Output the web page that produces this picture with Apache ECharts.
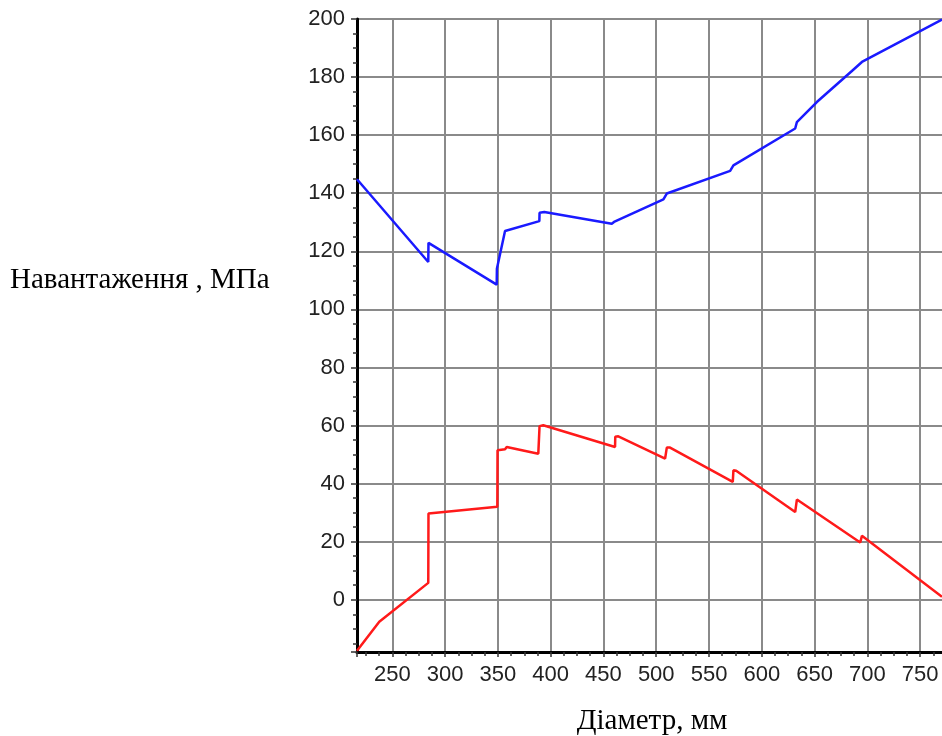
<!DOCTYPE html>
<html>
<head>
<meta charset="utf-8">
<script src="https://cdn.jsdelivr.net/npm/echarts@6/dist/echarts.min.js"></script>
<style>html,body{margin:0;padding:0;background:#fff;}#c{width:942px;height:736px;}</style>
</head>
<body>
<div id="c"></div>
<script>
// Diameter (mm) and load (MPa)
var blueX = [216.6, 284.1, 284.3, 348.9, 349.1, 356.8, 389.3, 389.5, 394.0, 457.9, 460.0, 506.8, 510.0, 570.0, 573.1, 631.6, 633.2, 652.1, 685.3, 694.8, 770.6];
var blueY = [144.8, 116.3, 122.9, 108.5, 114.0, 127.0, 130.4, 133.3, 133.5, 129.5, 130.1, 137.9, 139.9, 147.7, 149.6, 162.3, 164.5, 171.4, 182.1, 185.2, 199.8];
var redX = [216.6, 237.7, 284.1, 284.3, 349.5, 349.7, 356.8, 358.4, 388.3, 389.5, 393.0, 461.0, 461.2, 464.1, 508.4, 510.0, 513.1, 572.5, 573.1, 575.7, 631.6, 633.2, 693.2, 694.8, 770.6];
var redY = [-17.6, -7.6, 5.8, 29.7, 32.0, 51.5, 51.8, 52.6, 50.3, 59.8, 60.1, 52.6, 56.1, 56.3, 48.6, 52.4, 52.4, 40.6, 44.6, 44.4, 30.2, 34.5, 19.7, 22.0, 1.0];
var xName = 'Діаметр, мм';
var yName = 'Навантаження , МПа';

function pairs(xs, ys) { return xs.map(function (x, i) { return [x, ys[i]]; }); }

var chart = echarts.init(document.getElementById('c'), null, {renderer: 'canvas'});
chart.setOption({
  animation: false,
  backgroundColor: '#fff',
  title: {
    text: yName, left: 10, top: 266, padding: 0,
    textStyle: {fontFamily: 'Liberation Serif', fontSize: 29, fontWeight: 'normal', color: '#000'}
  },
  grid: {left: 357, top: 19, bottom: 84, right: -31, containLabel: false, outerBoundsMode: 'none',
    show: true, borderColor: '#444', borderWidth: 2, backgroundColor: '#fff'},
  xAxis: {
    type: 'value', min: 216.6, max: 800, minInterval: 50, maxInterval: 50,
    name: xName, nameLocation: 'middle', nameGap: 55,
    nameTextStyle: {fontFamily: 'Liberation Serif', fontSize: 29, color: '#000', padding: [0, 26, 0, 0]},
    axisLine: {show: true, onZero: false, lineStyle: {color: '#000', width: 3}},
    axisTick: {show: true, length: 5, lineStyle: {color: '#333', width: 1.5}},
    minorTick: {show: true, splitNumber: 4, length: 4, lineStyle: {color: '#333', width: 1.5}},
    splitLine: {show: true, lineStyle: {color: '#8a8a8a', width: 2}},
    axisLabel: {margin: 12, fontFamily: 'Liberation Sans', fontSize: 22, color: '#222',
      showMinLabel: false,
      formatter: function (v) { return (Math.abs(v % 50) < 1e-6) ? String(v) : ''; }}
  },
  yAxis: {
    type: 'value', min: -18, max: 200, minInterval: 20, maxInterval: 20,
    axisLine: {show: true, onZero: false, lineStyle: {color: '#000', width: 3}},
    axisTick: {show: true, length: 6, lineStyle: {color: '#333', width: 1.5}},
    minorTick: {show: true, splitNumber: 4, length: 4, lineStyle: {color: '#333', width: 1.5}},
    splitLine: {show: true, lineStyle: {color: '#8a8a8a', width: 2}},
    axisLabel: {margin: 12, fontFamily: 'Liberation Sans', fontSize: 22, color: '#222',
      formatter: function (v) { return (Math.abs(v % 20) < 1e-6) ? String(v) : ''; }}
  },
  series: [
    {type: 'line', data: pairs(blueX, blueY), showSymbol: false, symbol: 'none',
      lineStyle: {color: '#1a1aff', width: 2.5}, z: 3},
    {type: 'line', data: pairs(redX, redY), showSymbol: false, symbol: 'none',
      lineStyle: {color: '#ff1a1a', width: 2.5}, z: 3}
  ]
});
</script>
</body>
</html>
